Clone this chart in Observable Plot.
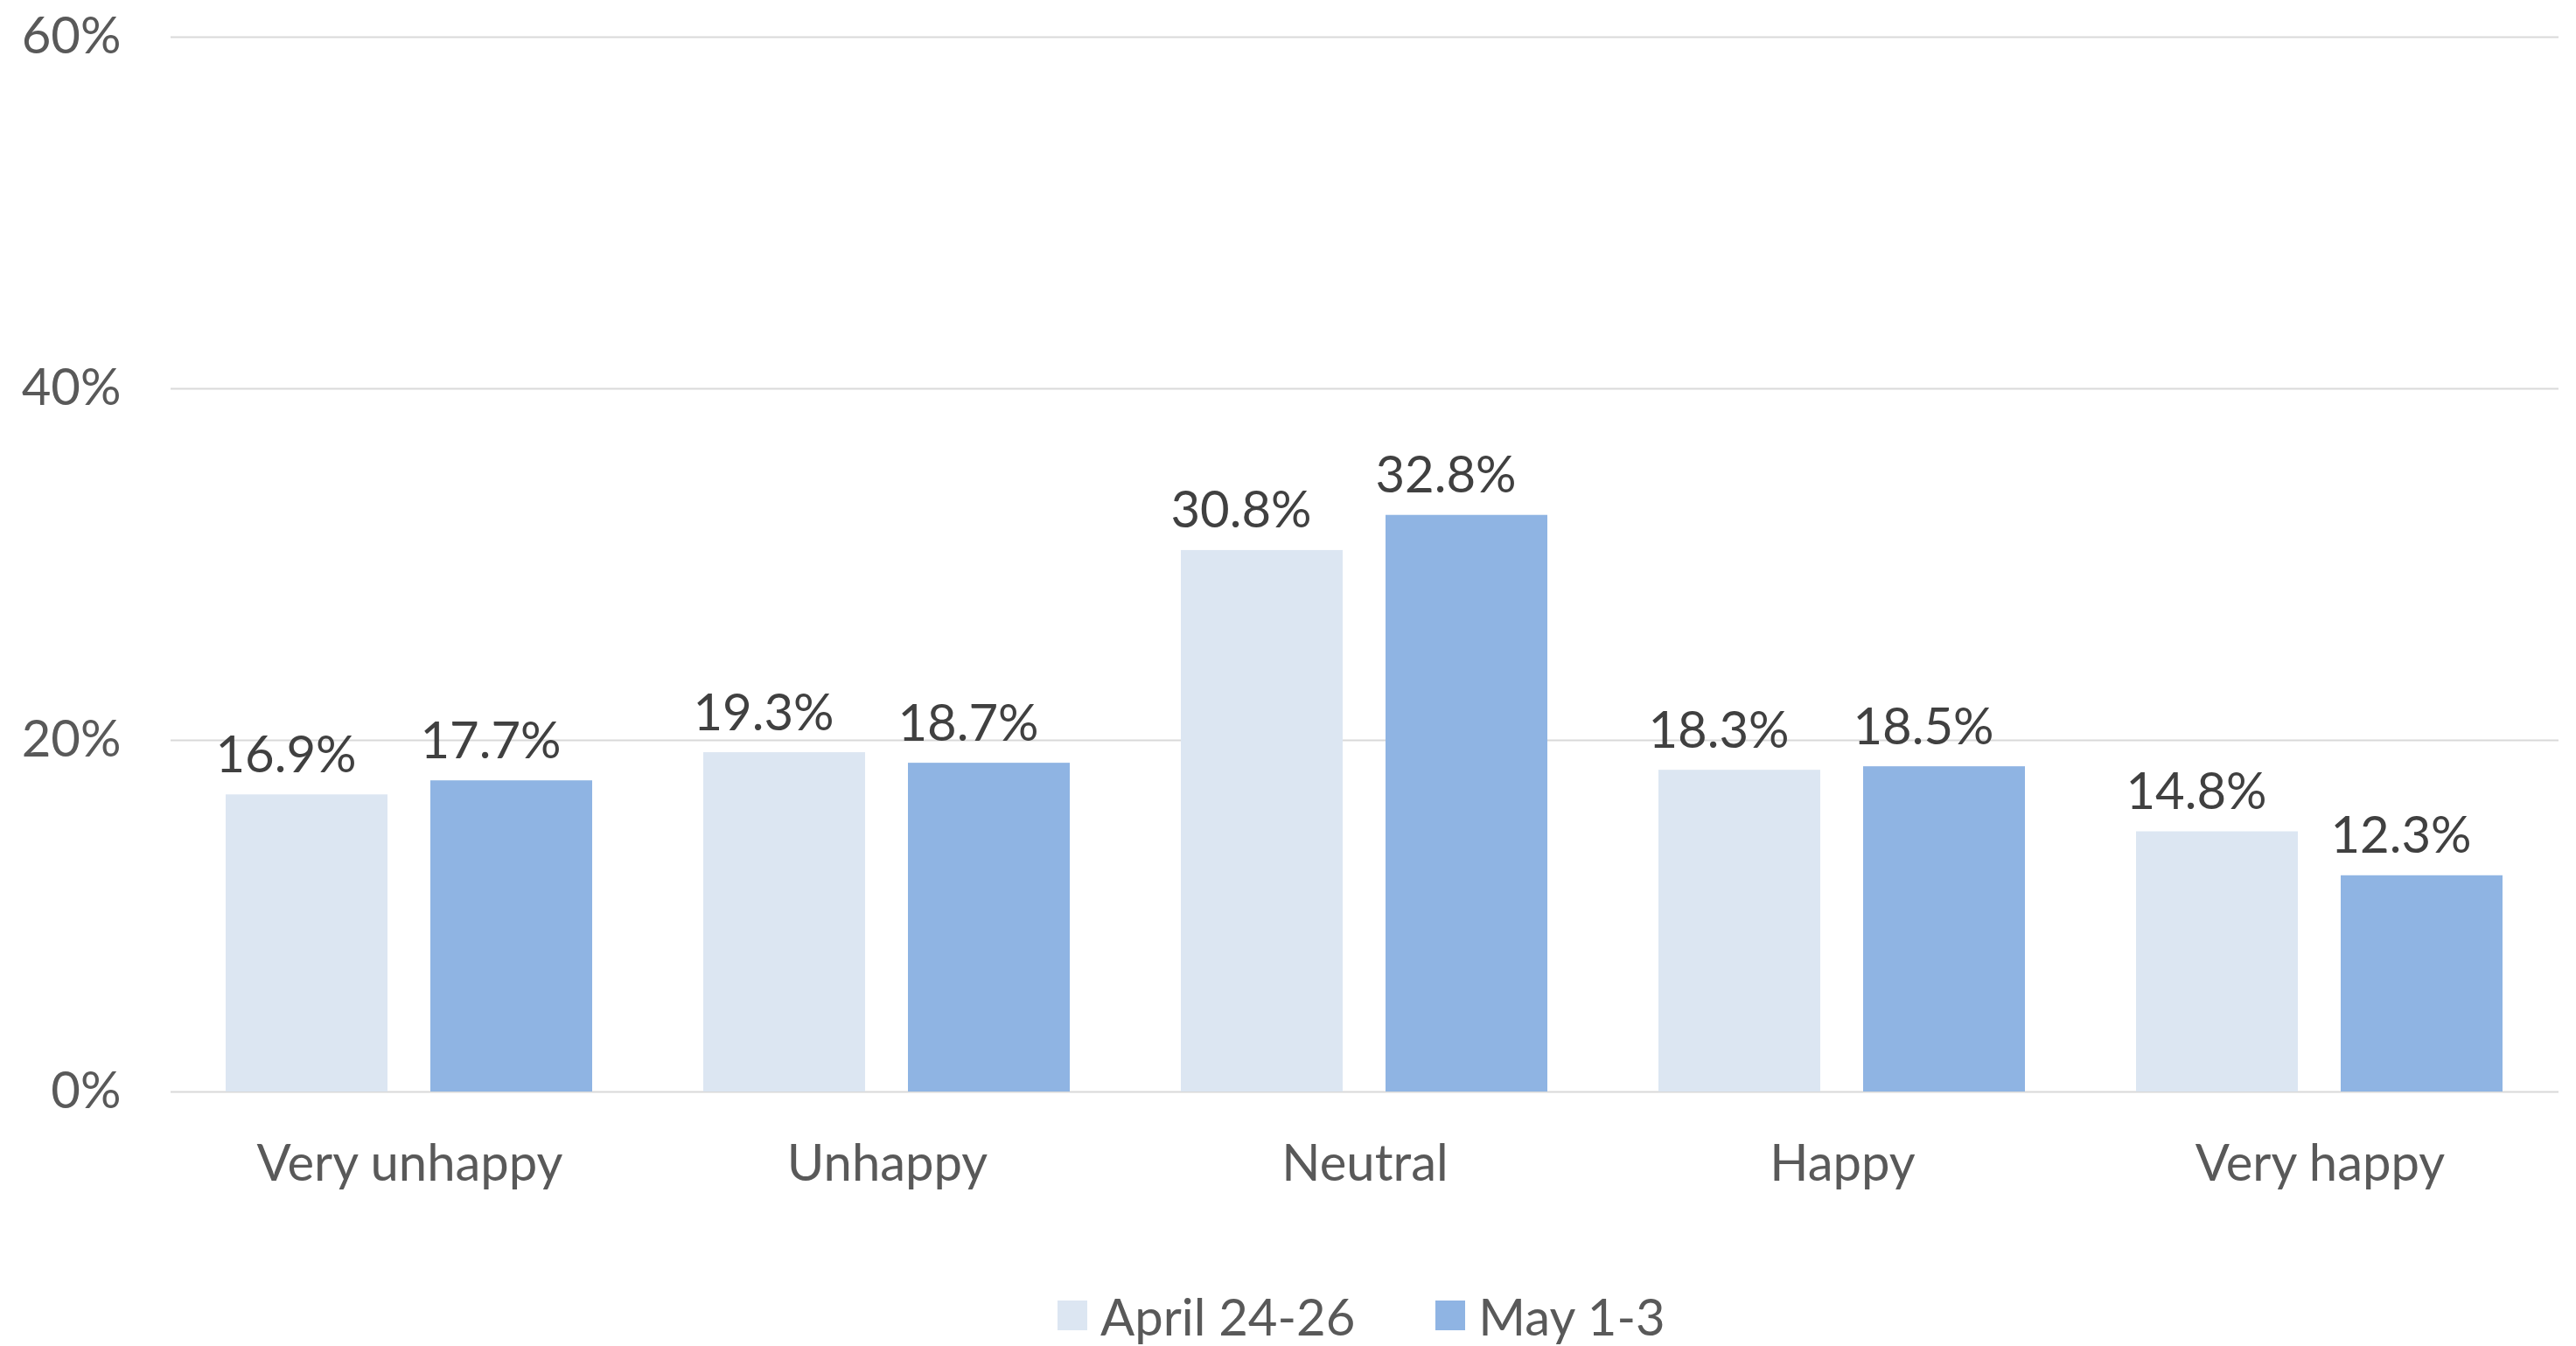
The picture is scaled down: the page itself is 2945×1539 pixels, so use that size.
<!DOCTYPE html>
<html>
<head>
<meta charset="utf-8">
<script src="https://cdn.jsdelivr.net/npm/d3@7"></script>
<script src="https://cdn.jsdelivr.net/npm/@observablehq/plot@0.6"></script>
<style>
  html, body { margin: 0; padding: 0; background: #ffffff; }
  body { width: 2945px; height: 1539px; position: relative; overflow: hidden; font-family: Lato, "Noto Sans", sans-serif; }
  #chart { position: absolute; left: 0; top: 0; }
  #legend { position: absolute; left: 1209px; top: 1474px; height: 60px; display: flex; align-items: center; font-size: 58px; color: #595959; }
  #legend .item { display: flex; align-items: center; margin-right: 92px; }
  #legend .sw { width: 34px; height: 34px; margin-right: 15px; }
</style>
</head>
<body>
<div id="chart"></div>
<div id="legend"></div>
<script>
const categories = ["Very unhappy", "Unhappy", "Neutral", "Happy", "Very happy"];
const series = ["April 24-26", "May 1-3"];
const april = [16.9, 19.3, 30.8, 18.3, 14.8];
const may = [17.7, 18.7, 32.8, 18.5, 12.3];
const colors = ["#dce6f2", "#8fb4e3"];
const yTicks = [0, 20, 40, 60];

const rows = [];
categories.forEach((c, i) => {
  rows.push({category: c, series: series[0], value: april[i]});
  rows.push({category: c, series: series[1], value: may[i]});
});

const plot = Plot.plot({
  width: 2945,
  height: 1440,
  marginTop: 42,
  marginBottom: 192,
  marginLeft: 194,
  marginRight: 19,
  style: {fontFamily: "Lato, 'Noto Sans', sans-serif", fontSize: "58px", color: "#595959", background: "#ffffff"},
  fx: {domain: categories, padding: 0, label: null, axis: "bottom", tickSize: 0, tickPadding: 60},
  x: {domain: series, paddingInner: 0.2085, paddingOuter: 0.268, axis: null},
  y: {domain: [0, 60], ticks: yTicks, tickFormat: d => d + "%", label: null, tickSize: 0, tickPadding: 57},
  color: {domain: series, range: colors},
  marks: [
    Plot.ruleY(yTicks, {stroke: "#d9d9d9", strokeWidth: 2}),
    Plot.barY(rows, {fx: "category", x: "series", y: "value", fill: "series"}),
    Plot.text(rows, {
      fx: "category", x: "series", y: "value",
      text: d => d.value.toFixed(1) + "%",
      dy: -26, dx: -24, lineAnchor: "bottom",
      fill: "#404040", fontSize: 58
    })
  ]
});
document.getElementById("chart").appendChild(plot);

const legend = document.getElementById("legend");
series.forEach((s, i) => {
  const item = document.createElement("div");
  item.className = "item";
  const sw = document.createElement("div");
  sw.className = "sw";
  sw.style.background = colors[i];
  const label = document.createElement("span");
  label.textContent = s;
  item.appendChild(sw);
  item.appendChild(label);
  legend.appendChild(item);
});
</script>
</body>
</html>
